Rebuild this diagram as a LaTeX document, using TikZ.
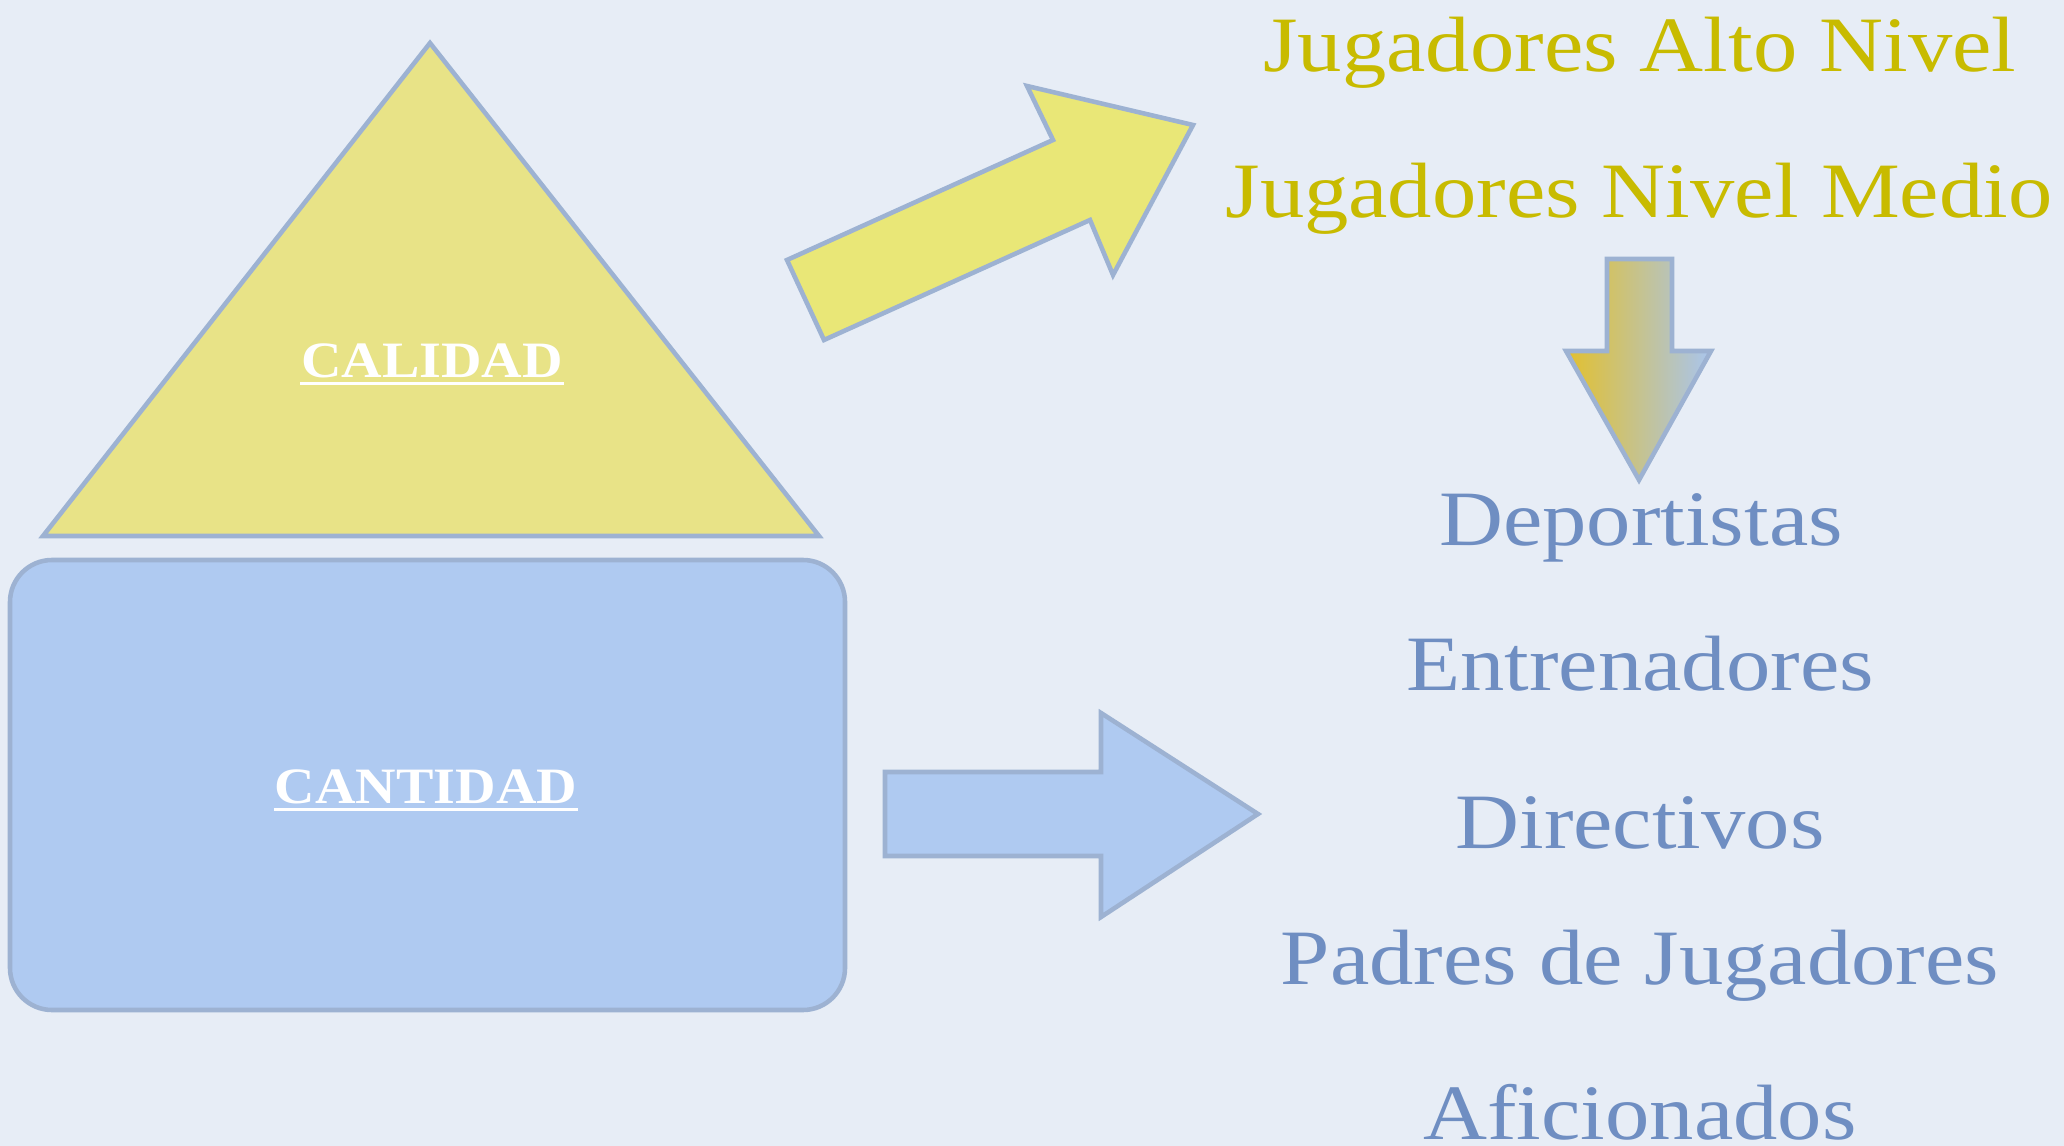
\documentclass[tikz,border=0pt]{standalone}
\usepackage{fontspec}
\setmainfont{Liberation Serif}
\newfontfamily\widefont{Liberation Serif}[FakeStretch=1.13]
\newfontfamily\boxfont{Liberation Serif}[FakeStretch=1.1]
\definecolor{bg}{HTML}{E7EDF6}
\definecolor{edge}{HTML}{9DB2D2}
\definecolor{triyel}{HTML}{E8E387}
\definecolor{arryel}{HTML}{E9E777}
\definecolor{boxblue}{HTML}{AFCAF1}
\definecolor{txtyel}{HTML}{C8BB00}
\definecolor{txtblue}{HTML}{6F8EC2}
\definecolor{gradL}{HTML}{E2C02E}
\definecolor{gradM}{HTML}{C9C7A0}
\definecolor{gradR}{HTML}{A9C5EE}
\tikzset{
  shapeline/.style={draw=edge, line width=1.3pt, line join=miter},
  biglabel/.style={anchor=base, inner sep=0pt, font=\widefont\fontsize{22.3}{24}\selectfont},
  yellabel/.style={biglabel, text=txtyel},
  bluelabel/.style={biglabel, text=txtblue},
  boxlabel/.style={anchor=base, inner sep=0pt, text=white, font=\boxfont\fontsize{14.5}{16}\selectfont\bfseries},
  uline/.style={white, line width=1pt}
}
\begin{document}
\begin{tikzpicture}[x=0.01cm, y=-0.01cm]
\fill[bg] (0,0) rectangle (2064,1146);
\useasboundingbox (0,0) rectangle (2064,1146);

% triangle
\filldraw[shapeline, fill=triyel] (430,43) -- (819,536) -- (43,536) -- cycle;
% rounded box
\filldraw[shapeline, fill=boxblue, rounded corners=0.42cm] (10,560) rectangle (845,1010);

% labels in shapes
\node[boxlabel] (cal) at (432,377) {CALIDAD};
\draw[uline] ([yshift=-1.9pt]cal.base west) -- ([yshift=-1.9pt]cal.base east);
\node[boxlabel] (cant) at (426,803) {CANTIDAD};
\draw[uline] ([yshift=-1.9pt]cant.base west) -- ([yshift=-1.9pt]cant.base east);

% diagonal yellow arrow
\filldraw[shapeline, fill=arryel]
  (787,260) -- (1053,140) -- (1027,86) -- (1193,125) -- (1113,275) -- (1090,220) -- (824,340) -- cycle;

% blue right arrow
\filldraw[shapeline, fill=boxblue]
  (885,772) -- (1101,772) -- (1101,713) -- (1258,814) -- (1101,917) -- (1101,856) -- (885,856) -- cycle;

% gradient down arrow
\shade[left color=gradL, middle color=gradM, right color=gradR]
  (1607,259) -- (1672,259) -- (1672,351) -- (1711,351) -- (1639,480) -- (1566,351) -- (1607,351) -- cycle;
\draw[shapeline]
  (1607,259) -- (1672,259) -- (1672,351) -- (1711,351) -- (1639,480) -- (1566,351) -- (1607,351) -- cycle;

% texts
\node[yellabel] (alto) at (1640,72) {Jugadores Alto Nivel};
\node[yellabel] (medio) at (1639,218) {Jugadores Nivel Medio};
\node[bluelabel] (dep) at (1641,545) {Deportistas};
\node[bluelabel] (ent) at (1640,690) {Entrenadores};
\node[bluelabel] (dir) at (1640,848) {Directivos};
\node[bluelabel] (pad) at (1640,984) {Padres de Jugadores};
\node[bluelabel] (afi) at (1640,1139) {Aficionados};
\end{tikzpicture}
\end{document}
